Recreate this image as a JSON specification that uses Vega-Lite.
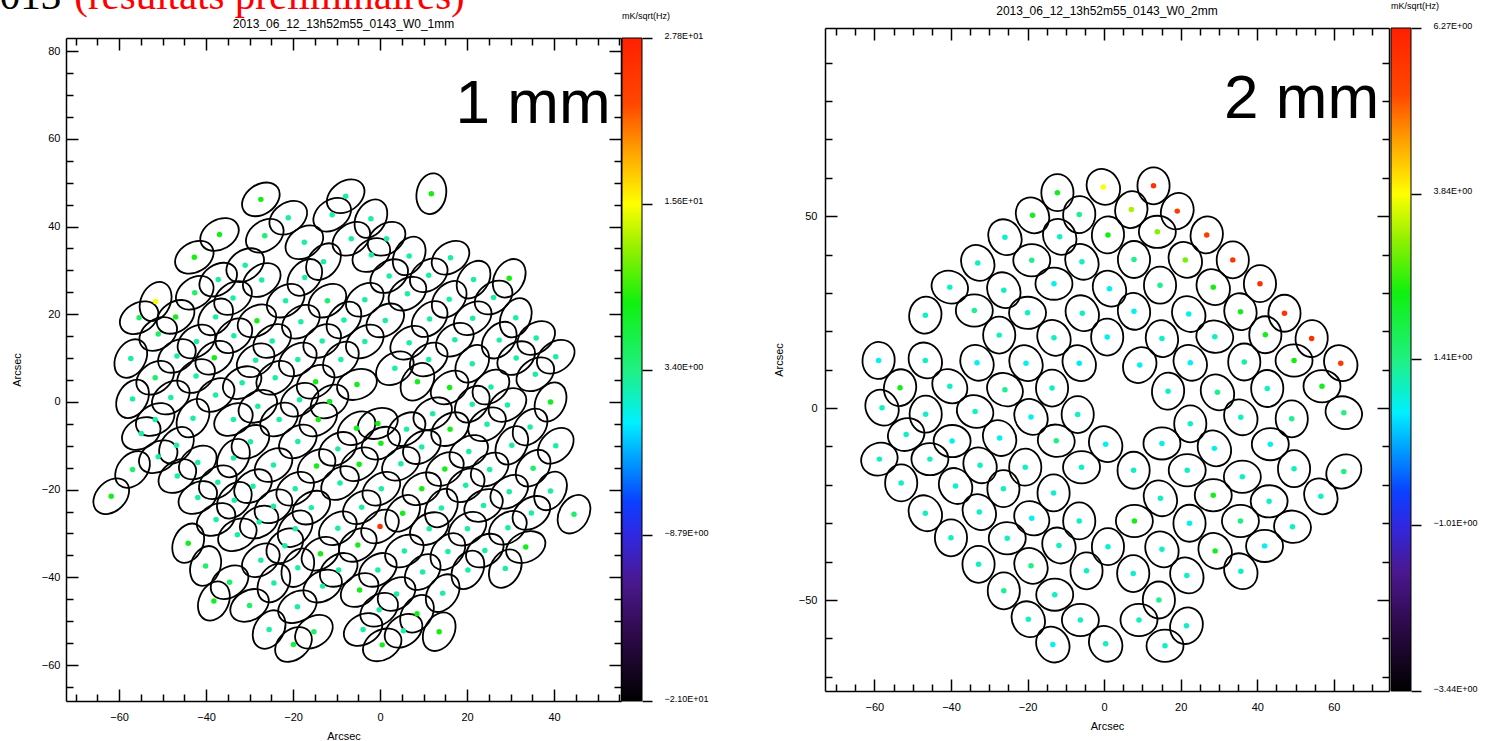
{
"$schema": "https://vega.github.io/schema/vega-lite/v6.json",
"background": "white",
"padding": {"left": -21, "top": -24, "right": 0, "bottom": 0},
"config": {
  "view": {"stroke": null},
  "font": "Liberation Sans",
  "axis": {"domainColor": "black", "domainWidth": 1.5, "tickColor": "black", "tickWidth": 1.5, "labelColor": "black", "labelFont": "Liberation Sans", "labelFontSize": 11, "titleFont": "Liberation Sans", "titleFontSize": 11, "titleFontWeight": "normal", "titleColor": "black", "grid": false, "labelFlush": false, "labelOverlap": false},
  "title": {"font": "Liberation Sans", "fontSize": 12, "fontWeight": "normal", "color": "black"}
},
"resolve": {"scale": {"color": "independent"}},
"datasets": {
"b1": [
{"x":-27.4,"y":46.2,"v":8.1,"pa":325},{"x":-7.9,"y":46.9,"v":2.4,"pa":325},{"x":-21.1,"y":42.0,"v":2.6,"pa":325},{"x":-11.0,"y":42.7,"v":2.4,"pa":325},
{"x":-36.9,"y":38.2,"v":7.8,"pa":330},{"x":-26.5,"y":37.9,"v":4.0,"pa":325},{"x":-17.4,"y":36.4,"v":2.4,"pa":325},{"x":-6.6,"y":37.2,"v":2.6,"pa":325},
{"x":-42.7,"y":33.0,"v":8.4,"pa":330},{"x":-31.0,"y":31.2,"v":2.4,"pa":325},{"x":-13.0,"y":32.0,"v":2.2,"pa":310},{"x":-27.2,"y":27.8,"v":2.4,"pa":325},
{"x":-17.3,"y":28.4,"v":2.4,"pa":310},{"x":-37.2,"y":27.9,"v":2.6,"pa":325},{"x":-42.6,"y":24.9,"v":4.3,"pa":325},{"x":-33.8,"y":23.7,"v":2.4,"pa":325},
{"x":-21.7,"y":23.1,"v":2.4,"pa":325},{"x":-12.1,"y":23.1,"v":4.3,"pa":325},{"x":-51.6,"y":22.9,"v":15.4,"pa":295},{"x":-55.4,"y":19.2,"v":4.3,"pa":330},
{"x":-47.0,"y":19.4,"v":7.8,"pa":325},{"x":-37.8,"y":19.4,"v":2.4,"pa":310},{"x":-28.3,"y":18.5,"v":8.2,"pa":330},{"x":-18.2,"y":18.3,"v":2.4,"pa":325},
{"x":-8.3,"y":18.7,"v":2.4,"pa":310},{"x":-51.0,"y":15.5,"v":4.5,"pa":325},{"x":-33.6,"y":15.1,"v":2.4,"pa":320},{"x":-24.8,"y":13.9,"v":2.4,"pa":325},
{"x":-13.3,"y":13.9,"v":2.4,"pa":325},{"x":-42.2,"y":13.8,"v":2.4,"pa":325},{"x":-57.3,"y":9.9,"v":2.4,"pa":300},{"x":-46.7,"y":10.5,"v":2.6,"pa":325},
{"x":-38.1,"y":10.1,"v":7.8,"pa":325},{"x":-28.6,"y":9.5,"v":2.4,"pa":325},{"x":-18.9,"y":9.7,"v":2.4,"pa":325},{"x":-9.0,"y":9.7,"v":2.4,"pa":315},
{"x":-51.7,"y":5.5,"v":4.3,"pa":325},{"x":-42.3,"y":5.9,"v":2.4,"pa":325},{"x":-31.7,"y":4.4,"v":2.4,"pa":330},{"x":-24.1,"y":5.5,"v":2.4,"pa":325},
{"x":-14.8,"y":4.6,"v":8.2,"pa":325},{"x":-56.9,"y":0.7,"v":2.4,"pa":300},{"x":-48.1,"y":1.0,"v":2.4,"pa":325},{"x":-37.8,"y":1.6,"v":2.4,"pa":325},
{"x":-28.1,"y":-1.0,"v":2.6,"pa":330},{"x":-18.5,"y":0.5,"v":2.4,"pa":325},{"x":-11.6,"y":0.1,"v":7.8,"pa":325},{"x":-51.7,"y":-4.0,"v":2.4,"pa":330},
{"x":-43.0,"y":-3.7,"v":2.4,"pa":300},{"x":-33.7,"y":-4.0,"v":2.4,"pa":330},{"x":-23.2,"y":-4.0,"v":2.4,"pa":325},{"x":-14.2,"y":-4.0,"v":8.2,"pa":325},
{"x":11.8,"y":47.5,"v":8.4,"pa":280},{"x":-2.1,"y":41.8,"v":2.4,"pa":300},{"x":1.5,"y":37.2,"v":2.6,"pa":325},{"x":-2.0,"y":33.5,"v":2.4,"pa":325},
{"x":6.7,"y":33.3,"v":2.4,"pa":300},{"x":16.2,"y":32.9,"v":2.4,"pa":325},{"x":2.1,"y":28.7,"v":2.4,"pa":325},{"x":11.2,"y":28.9,"v":2.4,"pa":325},
{"x":21.5,"y":27.9,"v":2.4,"pa":305},{"x":29.7,"y":28.2,"v":8.4,"pa":300},{"x":-3.5,"y":23.3,"v":2.4,"pa":325},{"x":6.3,"y":24.7,"v":2.4,"pa":325},
{"x":15.9,"y":23.4,"v":2.4,"pa":310},{"x":26.1,"y":23.8,"v":2.4,"pa":325},{"x":1.2,"y":18.6,"v":2.4,"pa":325},{"x":11.4,"y":18.9,"v":2.4,"pa":315},
{"x":21.3,"y":19.1,"v":2.4,"pa":325},{"x":31.2,"y":19.2,"v":2.4,"pa":295},{"x":-3.5,"y":13.8,"v":2.4,"pa":325},{"x":6.7,"y":13.5,"v":2.4,"pa":325},
{"x":17.2,"y":14.2,"v":2.4,"pa":325},{"x":27.4,"y":14.1,"v":2.4,"pa":310},{"x":35.9,"y":14.6,"v":2.4,"pa":325},{"x":11.2,"y":9.7,"v":2.4,"pa":325},
{"x":21.2,"y":8.7,"v":2.4,"pa":305},{"x":31.3,"y":10.0,"v":2.4,"pa":325},{"x":40.4,"y":10.3,"v":2.6,"pa":325},{"x":-5.3,"y":4.0,"v":8.0,"pa":340},
{"x":3.4,"y":7.7,"v":2.4,"pa":325},{"x":8.6,"y":4.6,"v":7.8,"pa":305},{"x":16.0,"y":3.3,"v":8.2,"pa":325},{"x":25.5,"y":3.4,"v":2.4,"pa":320},
{"x":35.7,"y":6.3,"v":2.4,"pa":325},{"x":21.2,"y":-0.5,"v":2.4,"pa":310},{"x":29.3,"y":-0.7,"v":2.4,"pa":325},{"x":39.2,"y":0.0,"v":7.8,"pa":295},
{"x":12.1,"y":-2.7,"v":2.4,"pa":330},
{"x":-54.9,"y":-7.2,"v":2.4,"pa":330},{"x":-46.8,"y":-9.9,"v":2.4,"pa":310},{"x":-29.8,"y":-9.1,"v":2.4,"pa":325},{"x":-18.9,"y":-9.0,"v":2.4,"pa":325},
{"x":-9.7,"y":-10.7,"v":2.4,"pa":325},{"x":-51.0,"y":-12.5,"v":2.4,"pa":330},{"x":-41.9,"y":-13.8,"v":2.4,"pa":325},{"x":-33.7,"y":-12.8,"v":2.4,"pa":300},
{"x":-24.5,"y":-14.4,"v":2.4,"pa":325},{"x":-14.6,"y":-14.6,"v":8.2,"pa":325},{"x":-56.9,"y":-15.4,"v":4.3,"pa":310},{"x":-46.6,"y":-16.9,"v":2.4,"pa":325},
{"x":-37.3,"y":-18.3,"v":2.4,"pa":325},{"x":-29.2,"y":-19.2,"v":2.4,"pa":325},{"x":-19.5,"y":-19.8,"v":2.4,"pa":325},{"x":-9.2,"y":-18.5,"v":2.4,"pa":325},
{"x":-61.8,"y":-21.5,"v":7.8,"pa":315},{"x":-41.9,"y":-21.8,"v":2.4,"pa":330},{"x":-33.5,"y":-22.4,"v":2.4,"pa":310},{"x":-24.5,"y":-23.8,"v":2.4,"pa":325},
{"x":-15.8,"y":-24.1,"v":2.4,"pa":325},{"x":-37.7,"y":-26.8,"v":2.4,"pa":330},{"x":-27.8,"y":-27.4,"v":2.4,"pa":330},{"x":-19.5,"y":-28.9,"v":2.4,"pa":310},
{"x":-9.7,"y":-28.8,"v":2.4,"pa":325},{"x":-32.8,"y":-30.3,"v":2.4,"pa":330},{"x":-44.1,"y":-32.2,"v":7.8,"pa":295},{"x":-21.9,"y":-32.8,"v":2.4,"pa":320},
{"x":-13.7,"y":-34.6,"v":8.2,"pa":325},{"x":-27.4,"y":-36.1,"v":2.4,"pa":325},{"x":-18.9,"y":-37.8,"v":2.4,"pa":300},{"x":-9.5,"y":-38.3,"v":2.4,"pa":325},
{"x":-40.1,"y":-37.4,"v":4.3,"pa":290},{"x":-34.6,"y":-41.1,"v":4.3,"pa":325},{"x":-24.4,"y":-41.3,"v":2.4,"pa":300},{"x":-13.2,"y":-42.0,"v":2.4,"pa":330},
{"x":-38.2,"y":-45.4,"v":7.8,"pa":295},{"x":-30.0,"y":-46.4,"v":4.3,"pa":330},{"x":-19.0,"y":-46.7,"v":2.4,"pa":330},{"x":-25.5,"y":-51.9,"v":2.4,"pa":300},
{"x":-15.2,"y":-52.4,"v":4.3,"pa":325},{"x":-19.9,"y":-55.3,"v":6.0,"pa":320},
{"x":-5.4,"y":-6.0,"v":7.8,"pa":325},{"x":-0.5,"y":-4.9,"v":8.2,"pa":340},{"x":6.1,"y":-6.2,"v":2.4,"pa":325},{"x":16.1,"y":-6.2,"v":7.8,"pa":325},
{"x":24.6,"y":-5.1,"v":2.4,"pa":325},{"x":34.5,"y":-5.7,"v":2.4,"pa":310},{"x":0.2,"y":-9.4,"v":7.8,"pa":330},{"x":9.6,"y":-10.3,"v":2.4,"pa":325},
{"x":20.4,"y":-11.3,"v":2.4,"pa":330},{"x":30.3,"y":-9.9,"v":2.4,"pa":300},{"x":40.4,"y":-10.0,"v":2.4,"pa":315},{"x":-4.8,"y":-14.2,"v":8.2,"pa":325},
{"x":4.8,"y":-14.1,"v":2.4,"pa":325},{"x":14.9,"y":-15.3,"v":7.8,"pa":325},{"x":25.2,"y":-15.4,"v":2.4,"pa":325},{"x":35.2,"y":-15.1,"v":4.3,"pa":310},
{"x":0.3,"y":-19.8,"v":2.4,"pa":325},{"x":9.6,"y":-19.8,"v":8.2,"pa":330},{"x":19.7,"y":-19.0,"v":2.4,"pa":325},{"x":29.7,"y":-20.5,"v":2.4,"pa":325},
{"x":39.2,"y":-20.3,"v":2.4,"pa":300},{"x":-4.2,"y":-24.0,"v":2.4,"pa":325},{"x":5.2,"y":-25.4,"v":7.8,"pa":310},{"x":14.1,"y":-24.2,"v":2.4,"pa":300},
{"x":23.8,"y":-23.6,"v":2.4,"pa":330},{"x":34.8,"y":-25.3,"v":2.4,"pa":325},{"x":44.6,"y":-25.6,"v":4.3,"pa":300},{"x":0.0,"y":-28.4,"v":25.5,"pa":325},
{"x":11.3,"y":-28.9,"v":2.4,"pa":330},{"x":20.1,"y":-28.9,"v":2.4,"pa":325},{"x":29.4,"y":-28.7,"v":2.4,"pa":325},{"x":-5.1,"y":-32.6,"v":7.8,"pa":325},
{"x":5.6,"y":-34.0,"v":2.4,"pa":330},{"x":15.6,"y":-34.1,"v":2.4,"pa":310},{"x":24.1,"y":-33.9,"v":2.4,"pa":325},{"x":33.5,"y":-33.1,"v":7.8,"pa":335},
{"x":-0.5,"y":-38.3,"v":2.4,"pa":325},{"x":9.8,"y":-38.8,"v":2.4,"pa":315},{"x":20.2,"y":-38.3,"v":2.4,"pa":300},{"x":28.8,"y":-38.0,"v":2.4,"pa":300},
{"x":-4.7,"y":-42.9,"v":8.2,"pa":325},{"x":3.8,"y":-43.8,"v":2.4,"pa":325},{"x":14.4,"y":-43.6,"v":2.4,"pa":305},{"x":-0.2,"y":-47.4,"v":2.4,"pa":325},
{"x":8.5,"y":-48.3,"v":7.8,"pa":305},{"x":-3.9,"y":-51.9,"v":2.4,"pa":330},{"x":5.4,"y":-52.2,"v":2.4,"pa":325},{"x":13.6,"y":-52.4,"v":8.2,"pa":300},
{"x":0.5,"y":-55.4,"v":7.8,"pa":330}
],
"b2": [
{"x":-12.2,"y":56.1,"v":2.3,"pa":90},{"x":-0.2,"y":57.6,"v":3.84,"pa":60},{"x":12.9,"y":57.9,"v":5.8,"pa":90},{"x":-18.7,"y":50.2,"v":2.3,"pa":60},
{"x":-6.5,"y":50.4,"v":1.3,"pa":95},{"x":7.1,"y":51.7,"v":3.3,"pa":100},{"x":19.1,"y":51.3,"v":5.7,"pa":110},{"x":-25.9,"y":44.5,"v":1.0,"pa":60},
{"x":-11.6,"y":44.6,"v":1.0,"pa":60},{"x":1.0,"y":45.1,"v":2.4,"pa":95},{"x":13.9,"y":45.9,"v":3.1,"pa":0},{"x":26.8,"y":45.1,"v":5.6,"pa":100},
{"x":-33.0,"y":37.8,"v":1.0,"pa":60},{"x":-18.9,"y":38.5,"v":1.3,"pa":0},{"x":-5.8,"y":38.1,"v":1.0,"pa":60},{"x":7.8,"y":38.7,"v":1.3,"pa":90},
{"x":21.2,"y":38.6,"v":3.0,"pa":60},{"x":33.6,"y":38.6,"v":5.8,"pa":90},{"x":-40.3,"y":31.5,"v":1.0,"pa":20},{"x":-26.2,"y":30.7,"v":1.0,"pa":60},
{"x":-13.1,"y":32.4,"v":0.7,"pa":0},{"x":1.4,"y":31.1,"v":0.7,"pa":60},{"x":14.6,"y":32.0,"v":1.3,"pa":90},{"x":28.5,"y":31.5,"v":2.4,"pa":60},
{"x":40.7,"y":32.4,"v":5.9,"pa":90},{"x":-46.7,"y":24.2,"v":1.0,"pa":100},{"x":-33.9,"y":25.4,"v":1.3,"pa":0},{"x":-20.0,"y":24.8,"v":1.0,"pa":0},
{"x":-5.7,"y":24.7,"v":1.0,"pa":60},{"x":7.8,"y":25.2,"v":0.7,"pa":80},{"x":22.1,"y":24.5,"v":0.7,"pa":60},{"x":35.6,"y":25.1,"v":2.3,"pa":80},
{"x":47.1,"y":24.7,"v":5.8,"pa":90},{"x":-27.4,"y":19.0,"v":1.0,"pa":90},{"x":-13.1,"y":18.3,"v":1.0,"pa":60},{"x":0.8,"y":18.5,"v":0.7,"pa":90},
{"x":15.1,"y":18.1,"v":1.0,"pa":80},{"x":28.9,"y":18.6,"v":1.0,"pa":10},{"x":42.1,"y":19.1,"v":2.3,"pa":90},{"x":54.2,"y":18.1,"v":5.9,"pa":95},
{"x":-58.9,"y":12.4,"v":0.7,"pa":95},{"x":-46.7,"y":12.4,"v":1.0,"pa":60},{"x":-33.2,"y":11.8,"v":0.7,"pa":60},{"x":-20.4,"y":11.7,"v":0.7,"pa":60},
{"x":-6.5,"y":11.7,"v":0.6,"pa":60},{"x":9.3,"y":11.2,"v":0.7,"pa":120},{"x":22.5,"y":11.8,"v":0.7,"pa":60},{"x":36.6,"y":12.0,"v":1.2,"pa":90},
{"x":49.6,"y":12.4,"v":2.4,"pa":0},{"x":61.8,"y":11.7,"v":5.7,"pa":60},{"x":-53.3,"y":5.3,"v":2.3,"pa":100},{"x":-40.3,"y":5.7,"v":1.0,"pa":40},
{"x":-25.9,"y":4.8,"v":1.3,"pa":30},{"x":-13.6,"y":5.2,"v":1.0,"pa":90},{"x":16.7,"y":4.4,"v":1.0,"pa":95},{"x":29.6,"y":4.1,"v":1.3,"pa":60},
{"x":42.6,"y":5.1,"v":1.0,"pa":90},{"x":56.9,"y":5.7,"v":2.3,"pa":0},
{"x":-58.0,"y":0.1,"v":1.0,"pa":60},{"x":-46.6,"y":-1.6,"v":1.0,"pa":90},{"x":-33.7,"y":-0.9,"v":1.0,"pa":20},{"x":-19.1,"y":-2.3,"v":0.7,"pa":60},
{"x":-6.9,"y":-1.7,"v":1.0,"pa":90},{"x":22.5,"y":-4.1,"v":1.0,"pa":90},{"x":35.7,"y":-2.4,"v":1.0,"pa":60},{"x":49.0,"y":-2.8,"v":1.3,"pa":90},
{"x":62.6,"y":-1.2,"v":1.4,"pa":20},{"x":-51.7,"y":-6.9,"v":1.0,"pa":340},{"x":-39.7,"y":-8.6,"v":0.7,"pa":0},{"x":-27.3,"y":-7.8,"v":0.7,"pa":60},
{"x":-12.5,"y":-8.5,"v":1.4,"pa":10},{"x":0.4,"y":-9.4,"v":0.7,"pa":60},{"x":15.1,"y":-9.2,"v":0.7,"pa":0},{"x":28.8,"y":-10.5,"v":0.7,"pa":60},
{"x":43.4,"y":-9.4,"v":0.7,"pa":0},{"x":-58.7,"y":-13.3,"v":1.0,"pa":340},{"x":-45.5,"y":-13.3,"v":1.0,"pa":0},{"x":-32.4,"y":-14.9,"v":1.0,"pa":60},
{"x":-20.6,"y":-15.4,"v":1.0,"pa":90},{"x":-5.9,"y":-15.4,"v":1.0,"pa":0},{"x":7.7,"y":-16.2,"v":1.0,"pa":90},{"x":21.7,"y":-16.2,"v":1.0,"pa":0},
{"x":36.1,"y":-17.9,"v":1.0,"pa":0},{"x":49.6,"y":-15.8,"v":1.0,"pa":90},{"x":62.6,"y":-16.5,"v":1.4,"pa":320},{"x":-53.0,"y":-19.5,"v":1.0,"pa":90},
{"x":-38.8,"y":-20.3,"v":0.9,"pa":60},{"x":-26.3,"y":-21.0,"v":1.0,"pa":90},{"x":-13.2,"y":-22.1,"v":1.0,"pa":90},{"x":14.7,"y":-23.5,"v":1.0,"pa":60},
{"x":28.5,"y":-22.7,"v":2.3,"pa":0},{"x":43.1,"y":-24.3,"v":1.0,"pa":0},{"x":56.6,"y":-23.0,"v":1.0,"pa":60},{"x":-46.7,"y":-27.4,"v":1.0,"pa":60},
{"x":-32.6,"y":-27.1,"v":1.0,"pa":60},{"x":-18.9,"y":-28.7,"v":0.7,"pa":40},{"x":-6.5,"y":-29.4,"v":1.0,"pa":90},{"x":7.9,"y":-29.4,"v":2.4,"pa":0},
{"x":22.3,"y":-30.0,"v":0.7,"pa":90},{"x":35.6,"y":-29.4,"v":1.4,"pa":0},{"x":49.2,"y":-30.9,"v":1.0,"pa":10},{"x":-40.0,"y":-33.8,"v":1.0,"pa":90},
{"x":-25.3,"y":-33.9,"v":1.0,"pa":0},{"x":-11.8,"y":-35.8,"v":1.0,"pa":60},{"x":1.0,"y":-36.1,"v":0.9,"pa":90},{"x":15.1,"y":-36.8,"v":1.0,"pa":60},
{"x":29.0,"y":-37.2,"v":2.3,"pa":60},{"x":41.9,"y":-35.9,"v":0.7,"pa":0},{"x":-32.8,"y":-40.7,"v":1.0,"pa":90},{"x":-19.1,"y":-41.1,"v":1.4,"pa":60},
{"x":-4.6,"y":-42.4,"v":1.0,"pa":90},{"x":7.6,"y":-43.1,"v":1.0,"pa":90},{"x":21.6,"y":-43.6,"v":1.0,"pa":60},{"x":35.7,"y":-42.5,"v":1.0,"pa":60},
{"x":-26.2,"y":-47.6,"v":1.3,"pa":90},{"x":-12.9,"y":-48.6,"v":1.0,"pa":0},{"x":14.3,"y":-50.0,"v":1.3,"pa":90},{"x":-19.8,"y":-55.0,"v":1.0,"pa":60},
{"x":-6.2,"y":-55.2,"v":1.0,"pa":0},{"x":9.1,"y":-55.2,"v":1.0,"pa":0},{"x":21.5,"y":-56.7,"v":1.0,"pa":110},{"x":-13.4,"y":-61.6,"v":0.7,"pa":60},
{"x":0.4,"y":-61.4,"v":1.0,"pa":60},{"x":15.9,"y":-61.9,"v":1.0,"pa":0}
]
},
"hconcat": [
 {"vconcat": [
   {"width": 555, "height": 1, "data": {"values": [{}]}, "mark": {"type": "text"}, "encoding": {}},
   {"hconcat": [
     {"width": 555, "height": 663,
      "data": {"name": "b1"},
      "layer": [
        {"mark": {"type": "point", "shape": "M1,0C1,0.398,0.552,0.72,0,0.72C-0.552,0.72,-1,0.398,-1,0C-1,-0.398,-0.552,-0.72,0,-0.72C0.552,-0.72,1,-0.398,1,0Z", "filled": false, "stroke": "black", "color": "black", "strokeWidth": 1.8, "size": 1681, "opacity": 1},
         "encoding": {
           "x": {"field": "x", "type": "quantitative", "scale": {"domain": [-72.2, 55.4], "nice": false, "zero": false},
                 "axis": {"orient": "bottom", "values": [-70,-65,-60,-55,-50,-45,-40,-35,-30,-25,-20,-15,-10,-5,0,5,10,15,20,25,30,35,40,45,50,55],
                          "tickSize": {"condition": {"test": "datum.value % 20 === 0", "value": -12}, "value": -7},
                          "labelExpr": "datum.value % 20 === 0 ? datum.label : ''", "labelPadding": 22, "title": "Arcsec", "titlePadding": 3}},
           "y": {"field": "y", "type": "quantitative", "scale": {"domain": [-68.2, 83], "nice": false, "zero": false},
                 "axis": {"orient": "left", "values": [-65,-60,-55,-50,-45,-40,-35,-30,-25,-20,-15,-10,-5,0,5,10,15,20,25,30,35,40,45,50,55,60,65,70,75,80],
                          "tickSize": {"condition": {"test": "datum.value % 20 === 0", "value": -12}, "value": -7},
                          "labelExpr": "datum.value % 20 === 0 ? datum.label : ''", "labelPadding": 18, "title": "Arcsec", "titleX": -49, "titleBaseline": "middle"}},
           "angle": {"field": "pa", "type": "quantitative", "scale": null}
         }},
        {"mark": {"type": "circle", "size": 30, "opacity": 1},
         "encoding": {
           "x": {"field": "x", "type": "quantitative", "scale": {"domain": [-72.2, 55.4], "nice": false, "zero": false},
                 "axis": {"orient": "top", "values": [-70,-65,-60,-55,-50,-45,-40,-35,-30,-25,-20,-15,-10,-5,0,5,10,15,20,25,30,35,40,45,50,55],
                          "tickSize": {"condition": {"test": "datum.value % 20 === 0", "value": -12}, "value": -7}, "labels": false, "title": null}},
           "y": {"field": "y", "type": "quantitative", "scale": {"domain": [-68.2, 83], "nice": false, "zero": false},
                 "axis": {"orient": "right", "values": [-65,-60,-55,-50,-45,-40,-35,-30,-25,-20,-15,-10,-5,0,5,10,15,20,25,30,35,40,45,50,55,60,65,70,75,80],
                          "tickSize": {"condition": {"test": "datum.value % 20 === 0", "value": -12}, "value": -7}, "labels": false, "title": null}},
           "color": {"field": "v", "type": "quantitative", "legend": null,
                     "scale": {"domain": [-21.0,-16.12,-12.216,-8.8,-6.36,-3.432,-0.504,3.4,8.28,12.184,15.6,19.504,22.92,27.8],
                               "range": ["#000000","#2e0a4a","#4a1890","#3028e0","#0a40ff","#0098ff","#00f0ff","#20f080","#10f010","#90f000","#ffff00","#ffa000","#ff4800","#ff2000"], "interpolate": "rgb", "nice": false, "zero": false}}
         }},
        {"data": {"values": [{"t": "1 mm"}]},
         "mark": {"type": "text", "fontSize": 62, "align": "right", "baseline": "alphabetic", "font": "Liberation Sans", "color": "black"},
         "encoding": {"x": {"datum": 53, "type": "quantitative", "axis": null}, "y": {"datum": 63.6, "type": "quantitative", "axis": null}, "text": {"field": "t"}}},
        {"data": {"values": [{"t": "2013_06_12_13h52m55_0143_W0_1mm"}]},
         "mark": {"type": "text", "fontSize": 12, "align": "center", "baseline": "alphabetic", "font": "Liberation Sans", "color": "black"},
         "encoding": {"x": {"datum": -8.4, "type": "quantitative", "axis": null}, "y": {"datum": 85.3, "type": "quantitative", "axis": null}, "text": {"field": "t"}}},
        {"data": {"values": [{"t": "2013"}]},
         "mark": {"type": "text", "fontSize": 41, "align": "right", "baseline": "alphabetic", "font": "Liberation Serif", "color": "black"},
         "encoding": {"x": {"datum": -73.3, "type": "quantitative", "axis": null}, "y": {"datum": 89.5, "type": "quantitative", "axis": null}, "text": {"field": "t"}}},
        {"data": {"values": [{"t": "(résultats préliminaires)"}]},
         "mark": {"type": "text", "fontSize": 41, "align": "left", "baseline": "alphabetic", "font": "Liberation Serif", "color": "#ff0000"},
         "encoding": {"x": {"datum": -70.3, "type": "quantitative", "axis": null}, "y": {"datum": 89.5, "type": "quantitative", "axis": null}, "text": {"field": "t"}}}
      ],
      "resolve": {"axis": {"x": "independent", "y": "independent"}}
     },
     {"width": 20, "height": 663,
      "title": {"text": "mK/sqrt(Hz)", "anchor": "start", "fontSize": 9, "offset": 10, "frame": "group"},
      "data": {"values": [{"lo": -21.0, "hi": 27.8}]},
      "mark": {"type": "rect", "stroke": "black", "strokeWidth": 1,
               "fill": {"gradient": "linear", "x1": 0, "y1": 1, "x2": 0, "y2": 0,
                        "stops": [{"offset":0,"color":"#000000"},{"offset":0.1,"color":"#2e0a4a"},{"offset":0.18,"color":"#4a1890"},{"offset":0.25,"color":"#3028e0"},{"offset":0.3,"color":"#0a40ff"},{"offset":0.36,"color":"#0098ff"},{"offset":0.42,"color":"#00f0ff"},{"offset":0.5,"color":"#20f080"},{"offset":0.6,"color":"#10f010"},{"offset":0.68,"color":"#90f000"},{"offset":0.75,"color":"#ffff00"},{"offset":0.83,"color":"#ffa000"},{"offset":0.9,"color":"#ff4800"},{"offset":1,"color":"#ff2000"}]}},
      "encoding": {
        "y": {"field": "lo", "type": "quantitative", "scale": {"domain": [-21.0, 27.8], "nice": false, "zero": false},
              "axis": {"orient": "right", "values": [-21.0, -8.8, 3.4, 15.6, 27.8], "domain": false, "tickSize": 10, "labelPadding": 12, "labelFontSize": 9, "labelBaseline": "alphabetic", "title": null,
                       "labelExpr": "datum.value > 27 ? '2.78E+01' : datum.value > 15 ? '1.56E+01' : datum.value > 3 ? '3.40E+00' : datum.value > -9 ? '−8.79E+00' : '−2.10E+01'"}},
        "y2": {"field": "hi"}
      }
     }
   ], "spacing": 1, "bounds": "flush"}
 ], "spacing": 9, "bounds": "flush"},
 {"hconcat": [
   {"width": 564, "height": 663,
    "title": {"text": "2013_06_12_13h52m55_0143_W0_2mm", "offset": 9, "frame": "group"},
    "data": {"name": "b2"},
    "layer": [
      {"mark": {"type": "point", "shape": "M1,0C1,0.48,0.552,0.87,0,0.87C-0.552,0.87,-1,0.48,-1,0C-1,-0.48,-0.552,-0.87,0,-0.87C0.552,-0.87,1,-0.48,1,0Z", "filled": false, "stroke": "black", "color": "black", "strokeWidth": 1.8, "size": 1369, "opacity": 1},
       "encoding": {
         "x": {"field": "x", "type": "quantitative", "scale": {"domain": [-72.9, 74.4], "nice": false, "zero": false},
               "axis": {"orient": "bottom", "values": [-70,-65,-60,-55,-50,-45,-40,-35,-30,-25,-20,-15,-10,-5,0,5,10,15,20,25,30,35,40,45,50,55,60,65,70],
                        "tickSize": {"condition": {"test": "datum.value % 20 === 0", "value": -12}, "value": -7},
                        "labelExpr": "datum.value % 20 === 0 ? datum.label : ''", "labelPadding": 22, "title": "Arcsec", "titlePadding": 3}},
         "y": {"field": "y", "type": "quantitative", "scale": {"domain": [-73.7, 99], "nice": false, "zero": false},
               "axis": {"orient": "left", "values": [-70,-60,-50,-40,-30,-20,-10,0,10,20,30,40,50,60,70,80,90],
                        "tickSize": {"condition": {"test": "datum.value % 50 === 0", "value": -12}, "value": -7},
                        "labelExpr": "datum.value % 50 === 0 ? datum.label : ''", "labelPadding": 20, "title": "Arcsec", "titleX": -46, "titleBaseline": "middle"}},
         "angle": {"field": "pa", "type": "quantitative", "scale": null}
       }},
      {"mark": {"type": "circle", "size": 30, "opacity": 1},
       "encoding": {
         "x": {"field": "x", "type": "quantitative", "scale": {"domain": [-72.9, 74.4], "nice": false, "zero": false},
               "axis": {"orient": "top", "values": [-70,-65,-60,-55,-50,-45,-40,-35,-30,-25,-20,-15,-10,-5,0,5,10,15,20,25,30,35,40,45,50,55,60,65,70],
                        "tickSize": {"condition": {"test": "datum.value % 20 === 0", "value": -12}, "value": -7}, "labels": false, "title": null}},
         "y": {"field": "y", "type": "quantitative", "scale": {"domain": [-73.7, 99], "nice": false, "zero": false},
               "axis": {"orient": "right", "values": [-70,-60,-50,-40,-30,-20,-10,0,10,20,30,40,50,60,70,80,90],
                        "tickSize": {"condition": {"test": "datum.value % 50 === 0", "value": -12}, "value": -7}, "labels": false, "title": null}},
         "color": {"field": "v", "type": "quantitative", "legend": null,
                   "scale": {"domain": [-3.44,-2.469,-1.692,-1.0125,-0.527,0.0556,0.638,1.415,2.386,3.163,3.8425,4.619,5.299,6.27],
                             "range": ["#000000","#2e0a4a","#4a1890","#3028e0","#0a40ff","#0098ff","#00f0ff","#20f080","#10f010","#90f000","#ffff00","#ffa000","#ff4800","#ff2000"], "interpolate": "rgb", "nice": false, "zero": false}}
       }},
      {"data": {"values": [{"t": "2 mm"}]},
       "mark": {"type": "text", "fontSize": 62, "align": "right", "baseline": "alphabetic", "font": "Liberation Sans", "color": "black"},
       "encoding": {"x": {"datum": 71.8, "type": "quantitative", "axis": null}, "y": {"datum": 75.5, "type": "quantitative", "axis": null}, "text": {"field": "t"}}}
    ],
    "resolve": {"axis": {"x": "independent", "y": "independent"}}
   },
   {"width": 20, "height": 663,
    "title": {"text": "mK/sqrt(Hz)", "anchor": "start", "fontSize": 9, "offset": 10, "frame": "group"},
    "data": {"values": [{"lo": -3.44, "hi": 6.27}]},
    "mark": {"type": "rect", "stroke": "black", "strokeWidth": 1,
             "fill": {"gradient": "linear", "x1": 0, "y1": 1, "x2": 0, "y2": 0,
                      "stops": [{"offset":0,"color":"#000000"},{"offset":0.1,"color":"#2e0a4a"},{"offset":0.18,"color":"#4a1890"},{"offset":0.25,"color":"#3028e0"},{"offset":0.3,"color":"#0a40ff"},{"offset":0.36,"color":"#0098ff"},{"offset":0.42,"color":"#00f0ff"},{"offset":0.5,"color":"#20f080"},{"offset":0.6,"color":"#10f010"},{"offset":0.68,"color":"#90f000"},{"offset":0.75,"color":"#ffff00"},{"offset":0.83,"color":"#ffa000"},{"offset":0.9,"color":"#ff4800"},{"offset":1,"color":"#ff2000"}]}},
    "encoding": {
      "y": {"field": "lo", "type": "quantitative", "scale": {"domain": [-3.44, 6.27], "nice": false, "zero": false},
            "axis": {"orient": "right", "values": [-3.44, -1.0125, 1.415, 3.8425, 6.27], "domain": false, "tickSize": 10, "labelPadding": 12, "labelFontSize": 9, "labelBaseline": "alphabetic", "title": null,
                     "labelExpr": "datum.value > 6 ? '6.27E+00' : datum.value > 3.5 ? '3.84E+00' : datum.value > 1 ? '1.41E+00' : datum.value > -2 ? '−1.01E+00' : '−3.44E+00'"}},
      "y2": {"field": "hi"}
    }
   }
 ], "spacing": 2, "bounds": "flush"}
],
"spacing": 759,
"bounds": "flush"
}
